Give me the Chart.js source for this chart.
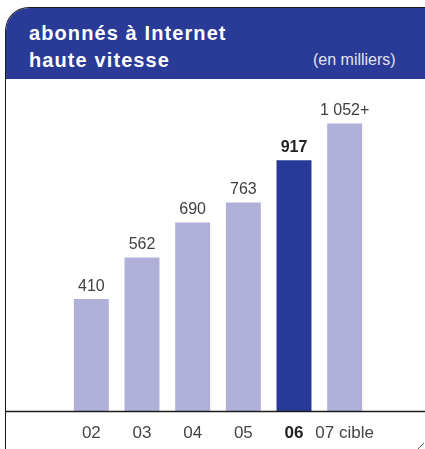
<!DOCTYPE html>
<html>
<head>
<meta charset="utf-8">
<script src="https://cdn.jsdelivr.net/npm/chart.js@4/dist/chart.umd.min.js"></script>
<style>
  html, body { margin:0; padding:0; background:#fff; }
  body { width:425px; height:449px; position:relative; overflow:hidden; font-family:"Liberation Sans", Arial, sans-serif; }
  .frame { position:absolute; left:5px; top:7px; width:440px; height:460px; border-left:1.6px solid #1c1c1c; border-top:1.6px solid #1c1c1c; border-top-left-radius:24px; overflow:hidden; box-sizing:border-box; }
  .header { position:absolute; left:0; top:0; width:100%; height:71.4px; background:#293a97; }
  .t1, .t2 { position:absolute; left:23px; color:#fff; font-weight:bold; font-size:20px; line-height:20px; letter-spacing:1.1px; white-space:nowrap; }
  .t1 { top:14.5px; }
  .t2 { top:41.5px; }
  .unit { position:absolute; left:307px; top:43.6px; color:#e2e3f2; font-size:16px; line-height:16px; white-space:nowrap; }
  canvas { position:absolute; left:0; top:0; }
</style>
</head>
<body>
<div class="frame">
  <div class="header">
    <div class="t1">abonnés à Internet</div>
    <div class="t2">haute vitesse</div>
    <div class="unit">(en milliers)</div>
  </div>
</div>
<canvas id="c" width="425" height="449"></canvas>
<script>
const categories = ["02", "03", "04", "05", "06", "07 cible"];
const values = [410, 562, 690, 763, 917, 1052];
const valueLabels = ["410", "562", "690", "763", "917", "1 052+"];
const highlightIndex = 4;

const lightColor = "#b0b0d8";
const darkColor = "#283a97";

const overlay = {
  id: "overlay",
  afterDatasetsDraw(chart) {
    const ctx = chart.ctx;
    const meta = chart.getDatasetMeta(0);
    ctx.save();
    ctx.textAlign = "center";
    ctx.textBaseline = "alphabetic";
    meta.data.forEach((bar, i) => {
      const bold = i === highlightIndex;
      ctx.font = (bold ? "bold " : "") + "16px 'Liberation Sans', Arial, sans-serif";
      ctx.fillStyle = bold ? "#222" : "#404040";
      ctx.fillText(valueLabels[i], bar.x, bar.y - 8);
    });
    // baseline axis line across full width
    const y0 = chart.scales.y.getPixelForValue(0);
    ctx.strokeStyle = "#1c1c1c";
    ctx.lineWidth = 1.5;
    ctx.beginPath();
    ctx.moveTo(6, y0 + 0.5);
    ctx.lineTo(425, y0 + 0.5);
    ctx.stroke();
    // small corner mark bottom right
    ctx.lineWidth = 1;
    ctx.strokeStyle = "#555";
    ctx.beginPath();
    ctx.moveTo(418, 449);
    ctx.lineTo(424, 443);
    ctx.stroke();
    ctx.restore();
  }
};

new Chart(document.getElementById("c"), {
  type: "bar",
  data: {
    labels: categories,
    datasets: [{
      data: values,
      backgroundColor: values.map((v, i) => i === highlightIndex ? darkColor : lightColor),
      borderWidth: 0,
      categoryPercentage: 1,
      barPercentage: 0.69
    }]
  },
  options: {
    responsive: false,
    devicePixelRatio: 1,
    animation: false,
    layout: { padding: { left: 66, right: 55, top: 83, bottom: 0 } },
    plugins: { legend: { display: false }, tooltip: { enabled: false } },
    scales: {
      x: {
        grid: { display: false, drawTicks: false },
        border: { display: false },
        ticks: {
          padding: 12,
          color: (ctx) => ctx.index === highlightIndex ? "#222" : "#444",
          font: (ctx) => ({
            family: "'Liberation Sans', Arial, sans-serif",
            size: 17,
            weight: ctx.index === highlightIndex ? "bold" : "normal"
          }),
          maxRotation: 0,
          autoSkip: false
        },
        afterFit(scale) { scale.height = 38; }
      },
      y: {
        display: false,
        min: 0,
        max: 1200
      }
    }
  },
  plugins: [overlay]
});
</script>
</body>
</html>
